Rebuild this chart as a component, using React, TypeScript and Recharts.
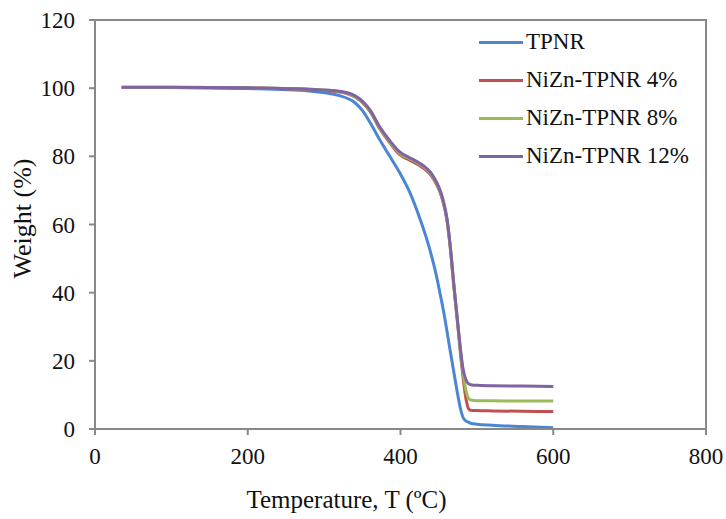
import { LineChart, Line, XAxis, YAxis, ReferenceArea, Label } from 'recharts'

const temps = [35, 100, 200, 280, 320, 340, 350, 360, 373, 386, 399, 412, 425, 434, 441, 447, 452, 456, 461, 465, 470, 475, 479, 482, 486, 489, 492, 500, 520, 560, 600]

const tpnr = [100.2, 100.2, 99.9, 99.2, 97.8, 95.8, 93.5, 90, 84.8, 80, 75.2, 69.5, 62, 56, 50.5, 45, 39.5, 35, 28.5, 23, 16.5, 10, 5.5, 3.3, 2.3, 2, 1.7, 1.4, 1.1, 0.7, 0.4]
const nizn4 = [100.2, 100.2, 100, 99.6, 98.9, 97.5, 95.8, 93.2, 88, 84, 80.5, 78.9, 77.3, 75.8, 74.1, 71.8, 69.3, 66.4, 61, 53.5, 41.5, 30.5, 21, 15, 8.5, 6, 5.5, 5.4, 5.3, 5.2, 5.1]
const nizn8 = [100.3, 100.3, 100.1, 99.7, 99, 97.6, 96, 93.4, 88.3, 84.3, 80.9, 79.3, 77.7, 76.2, 74.5, 72.2, 69.7, 66.7, 61.3, 53.8, 41.8, 30.8, 22, 16.5, 11, 9, 8.5, 8.3, 8.3, 8.2, 8.2]
const nizn12 = [100.3, 100.3, 100.1, 99.7, 99.1, 97.8, 96.2, 93.6, 88.6, 84.6, 81.3, 79.6, 78, 76.5, 74.8, 72.5, 70, 67, 61.5, 54, 42, 31, 22.5, 17.5, 14.3, 13.3, 13, 12.8, 12.7, 12.6, 12.5]

const xTicks = [0, 200, 400, 600, 800]
const yTicks = [0, 20, 40, 60, 80, 100, 120]

const seriesList = [
  { name: 'TPNR', values: tpnr, color: '#4a86d4' },
  { name: 'NiZn-TPNR 4%', values: nizn4, color: '#c0504d' },
  { name: 'NiZn-TPNR 8%', values: nizn8, color: '#9bbb59' },
  { name: 'NiZn-TPNR 12%', values: nizn12, color: '#7e64a2' },
]

const font = '"Liberation Serif", "Times New Roman", serif'

function LegendBox() {
  return (
    <div style={{ position: 'absolute', left: 479, top: 23, fontFamily: font, fontSize: 23, color: '#111', lineHeight: '38px' }}>
      {seriesList.map((s) => (
        <div key={s.name} style={{ display: 'flex', alignItems: 'center', height: 38 }}>
          <div style={{ width: 44, height: 3, background: s.color, marginRight: 3 }} />
          <span>{s.name}</span>
        </div>
      ))}
    </div>
  )
}

export default function App() {
  return (
    <div style={{ position: 'absolute', left: 0, top: 0, width: 726, height: 519, background: '#fff' }}>
      <LineChart width={726} height={519} margin={{ top: 20, right: 20, left: 0, bottom: 0 }}>
        <ReferenceArea x1={0} x2={800} y1={0} y2={120} fill="none" stroke="#888" strokeWidth={2} />
        <XAxis
          type="number"
          dataKey="t"
          domain={[0, 800]}
          ticks={xTicks}
          height={90}
          stroke="#888"
          strokeWidth={2}
          tickSize={6}
          tickMargin={13}
          tick={{ fill: '#111', fontSize: 23, fontFamily: font }}
          allowDuplicatedCategory={false}
        >
          <Label value="Temperature, T (ºC)" position="insideBottom" offset={11} dx={-54} style={{ fill: '#111', fontSize: 25, fontFamily: font }} />
        </XAxis>
        <YAxis
          type="number"
          domain={[0, 120]}
          ticks={yTicks}
          width={95}
          stroke="#888"
          strokeWidth={2}
          tickSize={6}
          tickMargin={14}
          tick={{ fill: '#111', fontSize: 23, fontFamily: font }}
        >
          <Label value="Weight (%)" angle={-90} position="insideLeft" offset={22} dy={-6} style={{ fill: '#111', fontSize: 26, fontFamily: font, textAnchor: 'middle' }} />
        </YAxis>
        {seriesList.map((s) => (
          <Line
            key={s.name}
            name={s.name}
            data={temps.map((t, i) => ({ t, w: s.values[i] }))}
            dataKey="w"
            type="monotone"
            stroke={s.color}
            strokeWidth={3}
            dot={false}
            isAnimationActive={false}
          />
        ))}
      </LineChart>
      <LegendBox />
    </div>
  )
}
